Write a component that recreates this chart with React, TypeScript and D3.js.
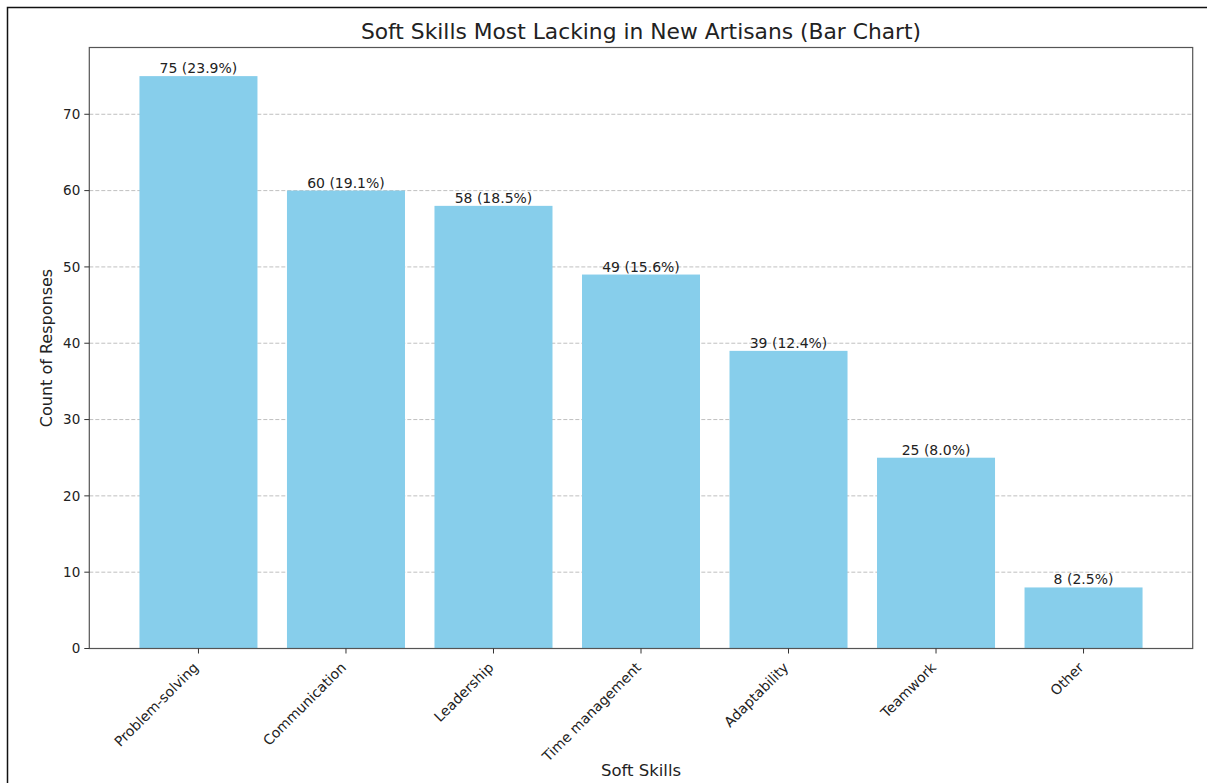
import React from "react";
import * as d3 from "d3";

const categories = ["Problem-solving", "Communication", "Leadership", "Time management", "Adaptability", "Teamwork", "Other"];
const counts = [75, 60, 58, 49, 39, 25, 8];
const percents = ["23.9", "19.1", "18.5", "15.6", "12.4", "8.0", "2.5"];
const yTicks = [0, 10, 20, 30, 40, 50, 60, 70];

const W = 1207, H = 783;
const L = 89.3, R = 1192.7, T = 47.5, B = 648.5;
const FONT = "DejaVu Sans, sans-serif";

export default function App() {
  const x = d3.scaleLinear().domain([-0.74, 6.74]).range([L, R]);
  const y = d3.scaleLinear().domain([0, 78.75]).range([B, T]);
  const bw = 0.8;
  return (
    <svg width={W} height={H} style={{ position: "absolute", left: 0, top: 0 }} fontFamily={FONT}>
      <rect x={0} y={0} width={W} height={H} fill="#fff" />
      <path d={`M7.5,${H} V7.5 H${W}`} fill="none" stroke="#111" strokeWidth={1.5} />
      <text x={(L + R) / 2} y={39} textAnchor="middle" fontSize={21.8} fill="#222">Soft Skills Most Lacking in New Artisans (Bar Chart)</text>
      {yTicks.filter(t => t > 0).map(t => (
        <line key={"g" + t} x1={L} x2={R} y1={y(t)} y2={y(t)} stroke="#b0b0b0" strokeDasharray="4,2" strokeWidth={0.8} />
      ))}
      {counts.map((c, i) => (
        <rect key={"b" + i} x={x(i - bw / 2)} y={y(c)} width={x(i + bw / 2) - x(i - bw / 2)} height={B - y(c)} fill="#87CEEB" />
      ))}
      {counts.map((c, i) => (
        <text key={"v" + i} x={x(i)} y={y(c) - 3} textAnchor="middle" fontSize={14} fill="#222">{`${c} (${percents[i]}%)`}</text>
      ))}
      <rect x={L} y={T} width={R - L} height={B - T} fill="none" stroke="#555" strokeWidth={1.2} />
      {yTicks.map(t => (
        <g key={"y" + t}>
          <line x1={L - 5} x2={L} y1={y(t)} y2={y(t)} stroke="#333" />
          <text x={L - 9} y={y(t)} dy="0.35em" textAnchor="end" fontSize={13.5} fill="#222">{t}</text>
        </g>
      ))}
      {categories.map((c, i) => (
        <g key={"x" + i}>
          <line x1={x(i)} x2={x(i)} y1={B} y2={B + 5} stroke="#333" />
          <text transform={`translate(${x(i) - 6},${B + 13}) rotate(-45)`} textAnchor="end" dy="0.7em" fontSize={14} fill="#222">{c}</text>
        </g>
      ))}
      <text x={(L + R) / 2} y={776} textAnchor="middle" fontSize={16.5} fill="#222">Soft Skills</text>
      <text transform={`translate(52,${(T + B) / 2}) rotate(-90)`} textAnchor="middle" fontSize={16} fill="#222">Count of Responses</text>
    </svg>
  );
}
